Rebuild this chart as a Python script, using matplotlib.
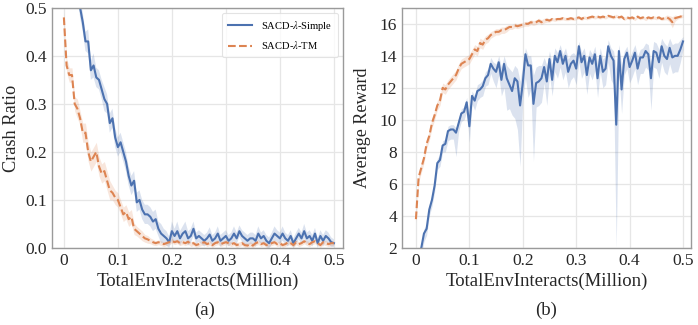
import numpy as np
import matplotlib
matplotlib.use('Agg')
import matplotlib.pyplot as plt

# x grid: 0 .. 0.5 million interacts, 101 evaluation points
n_pts = 101

crash_simple = [
    0.80, 0.75, 0.70, 0.65, 0.60, 0.55, 0.50, 0.47, 0.43, 0.43,
    0.37, 0.38, 0.355, 0.35, 0.33, 0.31, 0.30, 0.26, 0.27, 0.23,
    0.21, 0.22, 0.20, 0.18, 0.15, 0.13, 0.14, 0.095, 0.10, 0.08,
    0.07, 0.07, 0.065, 0.055, 0.06, 0.04, 0.03, 0.025, 0.02, 0.012,
    0.035, 0.025, 0.035, 0.02, 0.03, 0.035, 0.02, 0.025, 0.04, 0.02,
    0.025, 0.02, 0.015, 0.02, 0.028, 0.015, 0.02, 0.03, 0.015, 0.02,
    0.025, 0.015, 0.02, 0.03, 0.02, 0.035, 0.025, 0.02, 0.015, 0.02,
    0.02, 0.015, 0.03, 0.02, 0.025, 0.015, 0.01, 0.02, 0.03, 0.025,
    0.02, 0.03, 0.02, 0.015, 0.025, 0.01, 0.02, 0.03, 0.02, 0.035,
    0.02, 0.025, 0.015, 0.03, 0.01, 0.025, 0.015, 0.025, 0.02, 0.012,
    0.01]
crash_simple_sd = [
    0.02, 0.02, 0.02, 0.02, 0.02, 0.02, 0.02, 0.02, 0.02, 0.025,
    0.02, 0.025, 0.02, 0.02, 0.02, 0.025, 0.02, 0.02, 0.02, 0.02,
    0.02, 0.02, 0.02, 0.02, 0.02, 0.02, 0.02, 0.02, 0.02, 0.02,
    0.02, 0.02, 0.02, 0.02, 0.02, 0.015, 0.02, 0.015, 0.015, 0.012,
    0.02, 0.015, 0.02, 0.015, 0.015, 0.02, 0.015, 0.015, 0.015, 0.012,
    0.012, 0.012, 0.012, 0.012, 0.015, 0.012, 0.012, 0.015, 0.012, 0.012,
    0.012, 0.012, 0.012, 0.015, 0.012, 0.012, 0.012, 0.012, 0.012, 0.012,
    0.012, 0.012, 0.015, 0.012, 0.012, 0.012, 0.012, 0.012, 0.015, 0.012,
    0.012, 0.015, 0.012, 0.012, 0.012, 0.01, 0.012, 0.012, 0.012, 0.015,
    0.012, 0.012, 0.012, 0.012, 0.01, 0.012, 0.012, 0.012, 0.012, 0.01,
    0.008]

crash_tm = [
    0.48, 0.38, 0.36, 0.36, 0.30, 0.29, 0.27, 0.24, 0.24, 0.20,
    0.18, 0.19, 0.20, 0.17, 0.155, 0.16, 0.14, 0.12, 0.115, 0.105,
    0.10, 0.085, 0.07, 0.075, 0.06, 0.065, 0.04, 0.035, 0.03, 0.025,
    0.02, 0.018, 0.015, 0.012, 0.01, 0.012, 0.01, 0.008, 0.01, 0.012,
    0.015, 0.012, 0.014, 0.01, 0.012, 0.01, 0.013, 0.008, 0.01, 0.006,
    0.008, 0.01, 0.012, 0.008, 0.01, 0.006, 0.01, 0.012, 0.008, 0.01,
    0.012, 0.01, 0.008, 0.01, 0.006, 0.008, 0.01, 0.006, 0.005, 0.008,
    0.005, 0.01, 0.012, 0.008, 0.01, 0.006, 0.008, 0.01, 0.012, 0.008,
    0.01, 0.006, 0.008, 0.012, 0.01, 0.006, 0.012, 0.008, 0.01, 0.014,
    0.01, 0.008, 0.012, 0.014, 0.01, 0.006, 0.012, 0.01, 0.008, 0.01,
    0.01]
crash_tm_sd = [
    0.01, 0.015, 0.015, 0.015, 0.015, 0.02, 0.015, 0.02, 0.02, 0.02,
    0.02, 0.02, 0.02, 0.02, 0.02, 0.02, 0.02, 0.02, 0.015, 0.015,
    0.015, 0.015, 0.015, 0.015, 0.015, 0.015, 0.012, 0.01, 0.01, 0.01,
    0.008, 0.008, 0.006, 0.006, 0.005, 0.005, 0.005, 0.005, 0.005, 0.005,
    0.005, 0.005, 0.005, 0.005, 0.005, 0.005, 0.005, 0.005, 0.005, 0.005,
    0.005, 0.005, 0.005, 0.005, 0.005, 0.005, 0.005, 0.005, 0.005, 0.005,
    0.005, 0.005, 0.005, 0.005, 0.005, 0.005, 0.005, 0.005, 0.005, 0.005,
    0.005, 0.005, 0.005, 0.005, 0.005, 0.005, 0.005, 0.005, 0.005, 0.005,
    0.005, 0.005, 0.005, 0.005, 0.005, 0.005, 0.005, 0.005, 0.005, 0.005,
    0.005, 0.005, 0.005, 0.005, 0.005, 0.005, 0.005, 0.005, 0.005, 0.005,
    0.005]

reward_tm = [
    3.8, 6.4, 7.0, 7.6, 8.5, 9.0, 9.8, 10.3, 10.9, 11.2,
    12.0, 11.9, 12.2, 12.4, 12.6, 12.8, 13.2, 13.5, 13.6, 13.7,
    13.8, 14.1, 14.4, 14.3, 14.8, 14.7, 15.0, 15.1, 15.3, 15.4,
    15.5, 15.5, 15.6, 15.6, 15.7, 15.8, 15.8, 15.9, 15.85, 15.9,
    15.95, 16.0, 16.0, 16.1, 16.05, 16.1, 16.2, 16.1, 16.2, 16.25,
    16.2, 16.3, 16.25, 16.3, 16.3, 16.35, 16.3, 16.3, 16.35, 16.3,
    16.35, 16.4, 16.3, 16.4, 16.35, 16.4, 16.45, 16.4, 16.45, 16.4,
    16.45, 16.4, 16.5, 16.45, 16.4, 16.5, 16.4, 16.45, 16.3, 16.4,
    16.35, 16.4, 16.3, 16.45, 16.35, 16.4, 16.3, 16.4, 16.35, 16.4,
    16.35, 16.4, 16.3, 16.35, 16.4, 16.3, 16.1, 16.35, 16.4, 16.45,
    16.5]
reward_tm_sd = [
    0.2, 0.3, 0.3, 0.3, 0.3, 0.3, 0.3, 0.3, 0.3, 0.3,
    0.3, 0.3, 0.3, 0.3, 0.3, 0.3, 0.3, 0.3, 0.3, 0.3,
    0.3, 0.3, 0.3, 0.3, 0.3, 0.3, 0.25, 0.25, 0.2, 0.2,
    0.2, 0.2, 0.2, 0.2, 0.2, 0.15, 0.15, 0.15, 0.15, 0.15,
    0.15, 0.15, 0.15, 0.15, 0.15, 0.15, 0.15, 0.15, 0.15, 0.15,
    0.1, 0.1, 0.1, 0.1, 0.1, 0.1, 0.1, 0.1, 0.1, 0.1,
    0.1, 0.1, 0.1, 0.1, 0.1, 0.1, 0.1, 0.1, 0.1, 0.1,
    0.1, 0.1, 0.1, 0.1, 0.1, 0.1, 0.1, 0.1, 0.1, 0.1,
    0.1, 0.1, 0.1, 0.1, 0.1, 0.1, 0.1, 0.1, 0.1, 0.1,
    0.1, 0.1, 0.1, 0.1, 0.15, 0.2, 0.35, 0.2, 0.1, 0.1,
    0.1]

reward_simple = [
    0.5, 1.4, 2.0, 2.9, 3.2, 4.4, 5.0, 5.9, 7.3, 7.5,
    8.4, 8.5, 9.3, 9.4, 9.4, 9.2, 9.8, 10.4, 10.5, 11.1,
    9.6, 11.5, 11.2, 11.8, 11.9, 12.1, 12.6, 12.8, 13.5, 13.2,
    13.0, 13.6, 12.5, 13.5, 12.6, 12.2, 11.8, 12.6, 12.4, 10.9,
    12.3, 14.1, 13.4, 13.4, 11.0, 12.3, 12.4, 12.6, 13.3, 12.4,
    13.8, 12.5, 14.0, 13.6, 14.3, 13.5, 14.0, 13.0, 13.5, 13.7,
    13.2, 14.6, 13.6, 14.0, 12.8, 13.9, 13.5, 14.1, 12.6, 14.0,
    13.0, 13.2, 14.6, 14.0, 13.7, 9.7, 14.3, 11.9, 13.8, 14.2,
    13.3, 13.7, 14.2, 13.2, 13.9, 13.9, 14.3, 14.1, 12.6, 14.3,
    14.2, 13.6, 14.6, 14.0, 13.8, 14.5, 13.9, 14.0, 14.0, 14.4,
    14.9]
# downward / upward extent of the shaded band
reward_simple_lo = [
    0.5, 0.5, 0.5, 0.5, 0.4, 0.4, 0.4, 0.4, 0.4, 0.4,
    0.4, 0.5, 0.6, 0.6, 0.6, 1.5, 0.5, 0.5, 0.5, 0.6,
    1.0, 0.5, 0.6, 0.6, 0.5, 0.6, 0.5, 0.6, 0.6, 0.8,
    1.0, 0.8, 1.0, 1.5, 2.0, 1.5, 1.5, 2.5, 3.0, 3.8,
    1.0, 1.5, 2.0, 1.5, 3.6, 1.5, 1.5, 1.5, 1.0, 1.5,
    1.0, 1.0, 1.0, 1.0, 1.0, 1.0, 1.0, 1.0, 1.0, 1.0,
    1.0, 1.0, 1.0, 1.0, 1.2, 1.0, 1.0, 1.0, 1.2, 1.0,
    1.0, 1.0, 1.0, 1.5, 1.5, 7.7, 1.5, 1.5, 1.0, 1.0,
    1.0, 1.0, 1.0, 1.0, 1.0, 1.0, 1.0, 1.0, 2.0, 1.0,
    1.0, 1.0, 1.0, 1.0, 1.0, 1.0, 1.0, 1.0, 1.0, 0.8,
    0.5]
reward_simple_hi = [
    0.3, 0.3, 0.3, 0.3, 0.3, 0.3, 0.3, 0.3, 0.3, 0.3,
    0.3, 0.3, 0.3, 0.3, 0.3, 0.3, 0.3, 0.3, 0.3, 0.3,
    0.4, 0.3, 0.3, 0.4, 0.4, 0.4, 0.4, 0.4, 0.4, 0.4,
    0.5, 0.4, 0.8, 0.5, 0.8, 1.0, 1.2, 0.8, 0.8, 1.5,
    1.2, 0.4, 0.6, 0.6, 1.8, 1.0, 1.0, 0.8, 0.6, 1.0,
    0.5, 1.0, 0.5, 0.6, 0.4, 0.6, 0.5, 0.8, 0.6, 0.5,
    0.8, 0.3, 0.6, 0.5, 0.8, 0.5, 0.6, 0.5, 0.9, 0.5,
    0.8, 0.8, 0.4, 0.5, 0.6, 3.5, 0.4, 1.5, 0.5, 0.4,
    0.6, 0.6, 0.5, 0.8, 0.5, 0.6, 0.5, 0.6, 1.0, 0.6,
    0.6, 0.8, 0.5, 0.8, 0.8, 0.6, 0.8, 0.8, 0.8, 0.6,
    0.3]

x_ticks = [0, 0.1, 0.2, 0.3, 0.4, 0.5]
x_ticklabels = ['0', '0.1', '0.2', '0.3', '0.4', '0.5']

x = np.linspace(0, 0.5, n_pts)

plt.rcParams['font.family'] = ['Liberation Serif', 'DejaVu Serif']
plt.rcParams['mathtext.fontset'] = 'stix'

blue = '#4C72B0'
orange = '#DD8452'
txt = '#262626'

fig = plt.figure(figsize=(6.98, 3.25), dpi=100)
ax1 = fig.add_axes([0.0745, 0.237, 0.417, 0.739])
ax2 = fig.add_axes([0.576, 0.237, 0.414, 0.739])


def style(ax):
    ax.set_facecolor('white')
    ax.grid(True, color='#e6e6e6', linewidth=0.9)
    ax.set_axisbelow(True)
    for s in ax.spines.values():
        s.set_color('#9a9a9a')
        s.set_linewidth(1.0)
    ax.tick_params(length=0, labelsize=12.5, pad=3.5, labelcolor=txt)
    ax.set_xticks(x_ticks)
    ax.set_xticklabels(x_ticklabels)
    ax.set_xlabel('TotalEnvInteracts(Million)', fontsize=13.5, color=txt, labelpad=3)


# (a) crash ratio
cs = np.array(crash_simple)
cs_sd = np.array(crash_simple_sd)
ct = np.array(crash_tm)
ct_sd = np.array(crash_tm_sd)
ax1.fill_between(x, cs - cs_sd, cs + cs_sd, color=blue, alpha=0.2, linewidth=0)
ax1.fill_between(x, ct - ct_sd, ct + ct_sd, color=orange, alpha=0.2, linewidth=0)
ax1.plot(x, cs, color=blue, linewidth=1.5, label=r'SACD-$\lambda$-Simple')
ax1.plot(x, ct, color=orange, linewidth=1.5, linestyle='--', label=r'SACD-$\lambda$-TM')
style(ax1)
ax1.set_xlim(-0.022, 0.517)
ax1.set_ylim(0, 0.5)
ax1.set_yticks([0, 0.1, 0.2, 0.3, 0.4, 0.5])
ax1.set_yticklabels(['0.0', '0.1', '0.2', '0.3', '0.4', '0.5'])
ax1.set_ylabel('Crash Ratio', fontsize=13.2, color=txt, labelpad=4)
leg = ax1.legend(loc='upper right', fontsize=7.6, frameon=True, handlelength=2.3,
                 borderpad=0.55, labelspacing=0.6, handletextpad=0.8,
                 fancybox=True, borderaxespad=0.5)
leg.get_frame().set_edgecolor('#dddddd')
leg.get_frame().set_linewidth(0.8)

# (b) average reward
rs = np.array(reward_simple)
rs_lo = np.array(reward_simple_lo)
rs_hi = np.array(reward_simple_hi)
rt = np.array(reward_tm)
rt_sd = np.array(reward_tm_sd)
ax2.fill_between(x, rs - rs_lo, rs + rs_hi, color=blue, alpha=0.2, linewidth=0)
ax2.fill_between(x, rt - rt_sd, rt + rt_sd, color=orange, alpha=0.2, linewidth=0)
ax2.plot(x, rs, color=blue, linewidth=1.5)
ax2.plot(x, rt, color=orange, linewidth=1.5, linestyle='--')
style(ax2)
ax2.set_xlim(-0.026, 0.515)
ax2.set_ylim(2, 17)
ax2.set_yticks([2, 4, 6, 8, 10, 12, 14, 16])
ax2.set_ylabel('Average Reward', fontsize=13, color=txt, labelpad=6)

fig.text(0.293, 0.045, '(a)', ha='center', va='center', fontsize=13.5, color=txt)
fig.text(0.783, 0.045, '(b)', ha='center', va='center', fontsize=13.5, color=txt)

fig.savefig('out.png', dpi=100)
